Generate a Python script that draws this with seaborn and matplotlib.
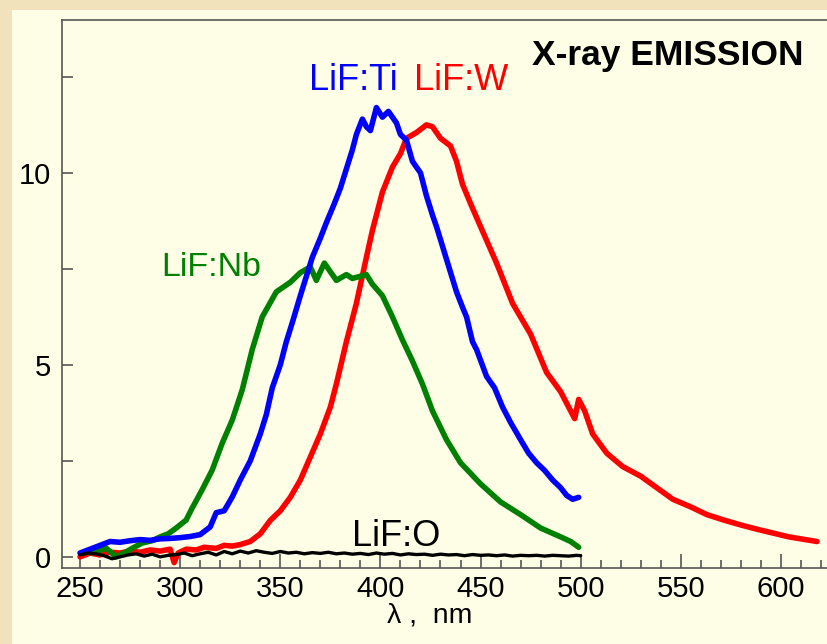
import matplotlib
matplotlib.use("Agg")
import matplotlib.pyplot as plt
import seaborn as sns
import pandas as pd
from matplotlib.ticker import MultipleLocator, FixedLocator
from matplotlib.patches import Rectangle

# ---- data ----
ti_wl = [250, 255, 260, 265, 270, 275, 280, 285, 290, 295, 300, 305, 310, 315, 318, 322, 326,
         330, 335, 340, 343, 346, 350, 353, 356, 360, 363, 366, 370, 373, 377, 380, 383, 386,
         388, 391, 393, 395, 398, 401, 404, 406, 408, 410, 413, 416, 420, 423, 426, 428, 433,
         438, 441, 443, 446, 448, 453, 457, 461, 465, 470, 474, 478, 482, 486, 490, 493, 496, 499]
ti_val = [0.1, 0.2, 0.3, 0.4, 0.38, 0.42, 0.45, 0.43, 0.47, 0.48, 0.5, 0.53, 0.58, 0.78, 1.15, 1.2, 1.56,
          2.0, 2.5, 3.2, 3.7, 4.4, 5.0, 5.6, 6.1, 6.8, 7.3, 7.8, 8.3, 8.7, 9.2, 9.6, 10.1, 10.6,
          11.0, 11.4, 11.2, 11.1, 11.7, 11.45, 11.6, 11.45, 11.3, 11.0, 10.85, 10.3, 10.0, 9.4, 8.9, 8.6, 7.75,
          6.9, 6.5, 6.25, 5.6, 5.4, 4.7, 4.4, 3.9, 3.5, 3.05, 2.7, 2.45, 2.25, 2.0, 1.8, 1.6, 1.5, 1.55]

w_wl = [250, 255, 260, 265, 270, 275, 280, 285, 290, 295, 297, 299, 303, 308, 312, 318, 322, 326,
        330, 335, 340, 345, 350, 355, 360, 365, 370, 375, 378, 383, 388, 393, 396, 401, 406, 410,
        413, 418, 423, 426, 430, 435, 438, 441, 445, 450, 458, 466, 475, 483, 490, 493, 496, 497,
        499, 502, 506, 513, 521, 530, 538, 546, 555, 563, 572, 580, 588, 596, 604, 611, 618]
w_val = [0.0, 0.1, 0.05, 0.12, 0.1, 0.15, 0.12, 0.18, 0.15, 0.2, -0.15, 0.1, 0.2, 0.18, 0.25, 0.22, 0.3, 0.28,
         0.32, 0.4, 0.6, 0.95, 1.2, 1.55, 2.0, 2.6, 3.2, 3.9, 4.5, 5.6, 6.6, 7.8, 8.5, 9.5, 10.15, 10.5,
         10.9, 11.05, 11.25, 11.2, 10.9, 10.7, 10.3, 9.7, 9.2, 8.6, 7.65, 6.6, 5.8, 4.8, 4.3, 4.0, 3.7, 3.6,
         4.1, 3.8, 3.2, 2.7, 2.35, 2.1, 1.8, 1.5, 1.3, 1.1, 0.95, 0.83, 0.72, 0.62, 0.52, 0.46, 0.4]

nb_wl = [255, 259, 263, 268, 273, 277, 281, 286, 290, 294, 298, 303, 306, 311, 316, 321, 326, 331,
         336, 341, 348, 355, 360, 365, 368, 372, 378, 383, 386, 393, 396, 401, 406, 411, 416, 421,
         426, 433, 440, 450, 460, 470, 480, 490, 495, 499]
nb_val = [0.1, 0.15, 0.23, 0.0, 0.13, 0.25, 0.36, 0.42, 0.52, 0.6, 0.75, 0.96, 1.27, 1.75, 2.26, 2.96, 3.56, 4.35,
          5.4, 6.25, 6.9, 7.15, 7.4, 7.55, 7.2, 7.65, 7.2, 7.35, 7.25, 7.35, 7.1, 6.8, 6.25, 5.65, 5.1, 4.5,
          3.8, 3.05, 2.45, 1.9, 1.43, 1.1, 0.75, 0.52, 0.4, 0.25]

o_wl = [250, 254, 258, 262, 266, 270, 274, 278, 282, 286, 290, 294, 298, 302, 306, 310, 314, 318,
        322, 326, 330, 334, 338, 342, 346, 350, 354, 358, 362, 366, 370, 374, 378, 382, 386, 390,
        394, 398, 402, 406, 410, 414, 418, 422, 426, 430, 434, 438, 442, 446, 450, 454, 458, 462,
        466, 470, 474, 478, 482, 486, 490, 494, 498, 500]
o_val = [0.05, 0.1, 0.08, 0.03, -0.05, 0.0, 0.05, 0.08, 0.02, 0.07, 0.0, 0.04, 0.06, 0.1, 0.03, 0.08, 0.12, 0.05,
         0.14, 0.08, 0.15, 0.1, 0.16, 0.12, 0.09, 0.14, 0.1, 0.12, 0.08, 0.11, 0.09, 0.12, 0.08, 0.1, 0.07, 0.09,
         0.06, 0.1, 0.07, 0.09, 0.05, 0.08, 0.06, 0.07, 0.04, 0.07, 0.05, 0.06, 0.03, 0.06, 0.04, 0.05, 0.03, 0.05,
         0.02, 0.04, 0.03, 0.04, 0.02, 0.04, 0.03, 0.02, 0.04, 0.03]

x_ticks = [250, 300, 350, 400, 450, 500, 550, 600]
y_ticks = [0, 5, 10]

series = [("LiF:W", w_wl, w_val, "#ff0000"),
          ("LiF:Nb", nb_wl, nb_val, "#008000"),
          ("LiF:Ti", ti_wl, ti_val, "#0000ff"),
          ("LiF:O", o_wl, o_val, "#000000")]

sns.set_style("ticks")
plt.rcParams["font.family"] = ["Liberation Sans", "DejaVu Sans"]

W, H = 827, 644
fig = plt.figure(figsize=(W / 100, H / 100), dpi=100)
fig.patch.set_facecolor("#f1e2bc")
fig.patches.append(Rectangle((12 / W, 0), 1, 1 - 10 / H, transform=fig.transFigure,
                             facecolor="#fefee6", edgecolor="none", zorder=-10))

ax = fig.add_axes([62 / W, 1 - 568 / H, (W - 62) / W, (568 - 20) / H])
ax.set_zorder(2)
ax.set_facecolor("#fefee6")

for name, wl, val, col in series:
    df = pd.DataFrame({"wl": wl, "val": val})
    sns.lineplot(data=df, x="wl", y="val", ax=ax, color=col,
                 lw=2.4 if name == "LiF:O" else 4.0, estimator=None, sort=False)

ax.set_xlim(241, 623)
ax.set_ylim(-0.29, 13.98)

ax.xaxis.set_major_locator(FixedLocator(x_ticks))
ax.xaxis.set_minor_locator(MultipleLocator(10))
ax.yaxis.set_major_locator(FixedLocator(y_ticks))
ax.yaxis.set_minor_locator(FixedLocator([2.5, 7.5, 12.5]))
ax.tick_params(axis="both", which="both", direction="in", colors="#555555",
               labelcolor="black", labelsize=21, width=1.2)
ax.tick_params(axis="x", which="major", length=10, pad=5)
ax.tick_params(axis="x", which="minor", length=6)
ax.tick_params(axis="y", which="major", length=8, pad=8)
ax.tick_params(axis="y", which="minor", length=8)

for s in ["left", "bottom", "top"]:
    ax.spines[s].set_color("#555555")
    ax.spines[s].set_linewidth(1.2)
ax.spines["right"].set_visible(False)

ax.set_xlabel("λ ,  nm", fontsize=20.5, color="black", va="center")
ax.xaxis.set_label_coords((430 - 62) / (W - 62), (568 - 616) / (568 - 20))
ax.set_ylabel("")

def ftxt(x, y, s, **kw):
    fig.text(x / W, 1 - y / H, s, ha="center", va="center", zorder=5, **kw)

ftxt(668, 56, "X-ray EMISSION", fontsize=25.5, fontweight="bold", color="black")
ftxt(353, 81, "LiF:Ti", fontsize=26, color="#0000ff")
ftxt(461, 81, "LiF:W", fontsize=26, color="#ff0000")
ftxt(211, 267, "LiF:Nb", fontsize=24.5, color="#008000")
ftxt(396, 536, "LiF:O", fontsize=26, color="black")

fig.savefig("out.png", dpi=100, facecolor=fig.get_facecolor())
